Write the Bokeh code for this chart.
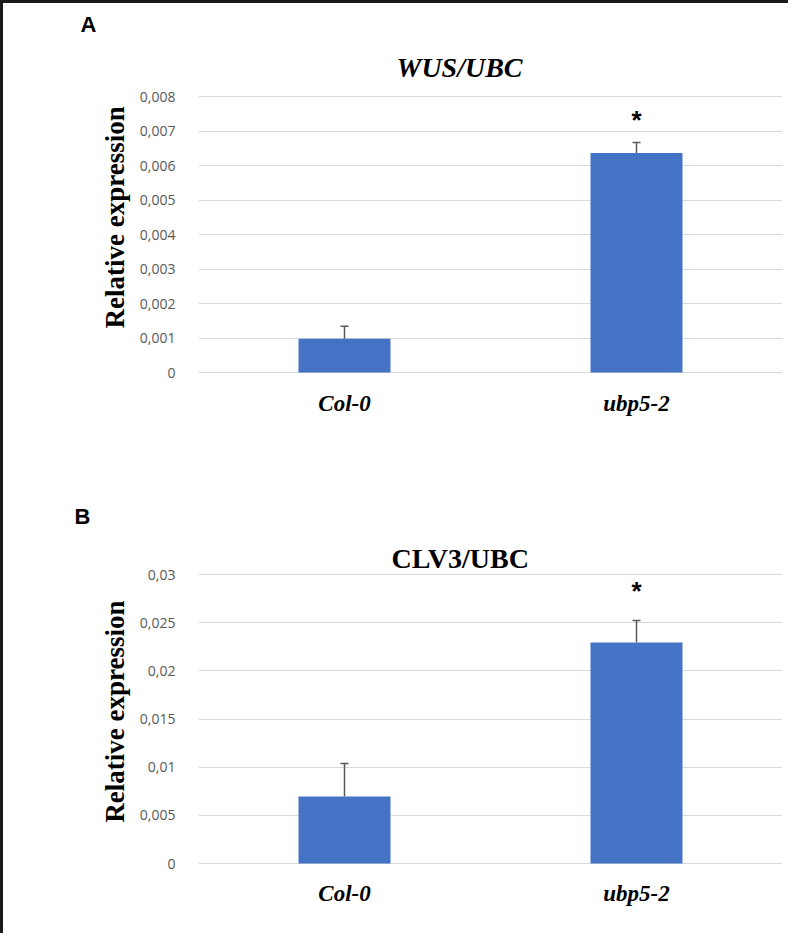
from bokeh.plotting import figure
from bokeh.layouts import column
from bokeh.models import (ColumnDataSource, FactorRange, Range1d, FixedTicker, Title,
                          Whisker, TeeHead)
from bokeh.embed import file_html
from bokeh.resources import INLINE

# ---------------- data ----------------
categories = ["Col-0", "ubp5-2"]
significance = ["", "*"]

wus_values = [0.00098, 0.00636]
wus_errors = [0.00036, 0.00031]
wus_ticks = [0, 0.001, 0.002, 0.003, 0.004, 0.005, 0.006, 0.007, 0.008]
wus_tick_labels = ["0", "0,001", "0,002", "0,003", "0,004", "0,005", "0,006", "0,007", "0,008"]

clv3_values = [0.00695, 0.02294]
clv3_errors = [0.00343, 0.00228]
clv3_ticks = [0, 0.005, 0.01, 0.015, 0.02, 0.025, 0.03]
clv3_tick_labels = ["0", "0,005", "0,01", "0,015", "0,02", "0,025", "0,03"]

y_label = "Relative expression"

BAR = "#4472C4"
GRID = "#d9d9d9"
TICK = "#595959"
SERIF = "Liberation Serif"
THIN = "\u2009"  # thin space, used only to nudge the top-anchored y title downwards


def panel(letter, title, title_italic, vals, errs, ticks, tick_labels, ymax,
          width, height, mb_top, mb_bottom, mb_left, mb_right, frame_px,
          title_offset, title_standoff, letter_offset, letter_standoff,
          ylab_nudge, xlab_standoff, star_off):
    pad = ymax / frame_px
    src = ColumnDataSource(dict(cat=categories, val=vals,
                                upper=[v + e for v, e in zip(vals, errs)],
                                sig=significance))
    p = figure(x_range=FactorRange(*categories), y_range=Range1d(-pad, ymax + pad),
               width=width, height=height, output_backend="svg",
               toolbar_location=None, tools="",
               min_border_top=mb_top, min_border_bottom=mb_bottom,
               min_border_left=mb_left, min_border_right=mb_right)
    p.outline_line_color = None
    p.background_fill_color = "white"
    p.border_fill_color = "white"

    p.vbar(x="cat", top="val", width=0.315, source=src, fill_color=BAR, line_color=None)
    w = Whisker(source=src, base="cat", lower="val", upper="upper",
                line_color="#595959", line_width=1.5, lower_head=None,
                upper_head=TeeHead(size=8, line_color="#595959", line_width=1.5))
    p.add_layout(w)
    p.text(x="cat", y="upper", text="sig", source=src, text_align="center",
           text_baseline="middle", y_offset=-star_off, text_font_size="26px",
           text_font={"value": "Liberation Sans"}, text_font_style="bold", text_color="black")

    # axes
    p.xgrid.grid_line_color = None
    p.ygrid.grid_line_color = GRID
    p.ygrid.grid_line_width = 1.2
    p.yaxis.ticker = FixedTicker(ticks=ticks)
    p.yaxis.major_label_overrides = {t: l for t, l in zip(ticks, tick_labels)}
    p.yaxis.axis_line_color = None
    p.yaxis.major_tick_line_color = None
    p.yaxis.minor_tick_line_color = None
    p.yaxis.major_label_standoff = 17
    p.yaxis.major_label_text_font = "Open Sans"
    p.yaxis.major_label_text_font_size = "14px"
    p.yaxis.major_label_text_color = TICK

    p.xaxis.axis_line_color = None
    p.xaxis.major_tick_line_color = None
    p.xaxis.minor_tick_line_color = None
    p.xaxis.major_label_standoff = xlab_standoff
    p.xaxis.major_label_text_font = SERIF
    p.xaxis.major_label_text_font_style = "bold italic"
    p.xaxis.major_label_text_font_size = "23px"
    p.xaxis.major_label_text_color = "black"

    # y-axis title (top-anchored, nudged down)
    p.add_layout(Title(text=y_label + THIN * ylab_nudge, align="right",
                       standoff=14, text_font=SERIF, text_font_style="bold",
                       text_font_size="27px", text_color="black"), "left")

    p.add_layout(Title(text=title, align="left", offset=title_offset, standoff=title_standoff,
                       text_font=SERIF,
                       text_font_style="bold italic" if title_italic else "bold",
                       text_font_size="28px", text_color="black"), "above")
    p.add_layout(Title(text=letter, align="left", offset=letter_offset, standoff=letter_standoff,
                       text_font="Liberation Sans", text_font_style="bold",
                       text_font_size="22px", text_color="black"), "above")
    return p


pA = panel("A", "WUS/UBC", True, wus_values, wus_errors, wus_ticks, wus_tick_labels, 0.008,
           width=785, height=459, mb_top=92, mb_bottom=89, mb_left=189, mb_right=6,
           frame_px=276, title_offset=198, title_standoff=26, letter_offset=-118,
           letter_standoff=0, ylab_nudge=2, xlab_standoff=11, star_off=22)
pB = panel("B", "CLV3/UBC", False, clv3_values, clv3_errors, clv3_ticks, clv3_tick_labels, 0.03,
           width=785, height=471, mb_top=111, mb_bottom=69, mb_left=195, mb_right=6,
           frame_px=289, title_offset=193, title_standoff=0, letter_offset=-124,
           letter_standoff=23, ylab_nudge=5, xlab_standoff=10, star_off=30)

layout = column(pA, pB, spacing=0,
                styles={"border-top": "3px solid #1a1a1a", "border-left": "3px solid #1a1a1a"})

open("out.html", "w").write(file_html(layout, INLINE))
